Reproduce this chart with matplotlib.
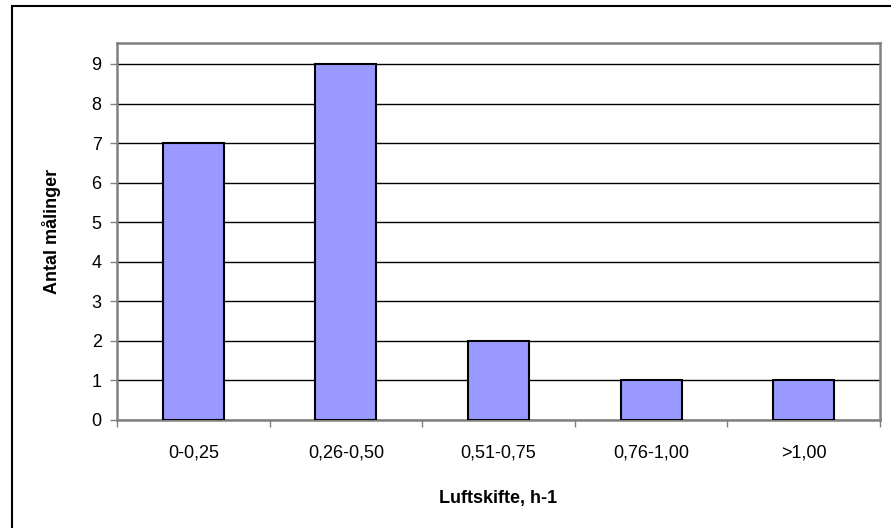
import matplotlib
matplotlib.use("Agg")
import matplotlib.pyplot as plt
from matplotlib.patches import Rectangle

categories = ["0-0,25", "0,26-0,50", "0,51-0,75", "0,76-1,00", ">1,00"]
counts = [7, 9, 2, 1, 1]
yticks = list(range(10))

plt.rcParams['font.family'] = ['Liberation Sans', 'DejaVu Sans']

fig = plt.figure(figsize=(8.91, 5.28), dpi=100)
ax = fig.add_axes([117/891, 1-420/528, 763/891, 377/528])

x = range(len(categories))
ax.bar(x, counts, width=0.4, color='#9999FF', edgecolor='black', linewidth=1.5, zorder=3)

ax.set_xlim(-0.5, len(categories) - 0.5)
ax.set_ylim(0, 9.53)
ax.set_yticks(yticks)
ax.set_yticklabels([str(t) for t in yticks], fontsize=13)
ax.yaxis.grid(True, color='black', linewidth=1, zorder=0)

# category labels centred, tick marks on category boundaries
ax.set_xticks(list(x))
ax.set_xticklabels(categories, fontsize=13)
ax.tick_params(axis='x', length=0, pad=18)
ax.set_xticks([i - 0.5 for i in range(len(categories) + 1)], minor=True)
ax.tick_params(axis='x', which='minor', length=5, width=1, color='#808080', direction='out')
ax.tick_params(axis='y', length=5, width=1, color='#808080', direction='out', pad=6)

for s in ['top', 'right', 'left', 'bottom']:
    ax.spines[s].set_color('#808080')
    ax.spines[s].set_linewidth(1.8)

ax.set_xlabel("Luftskifte, h-1", fontsize=13, fontweight='bold', labelpad=20)
ax.set_ylabel("Antal målinger", fontsize=13, fontweight='bold', labelpad=22)

# chart frame: only left and top edges fall inside the picture
fig.patches.append(Rectangle((12/891, -0.05), 1.0, 1 - 6/528 + 0.05, transform=fig.transFigure,
                             fill=False, edgecolor='black', linewidth=1.5))

fig.savefig("out.png", dpi=100)
